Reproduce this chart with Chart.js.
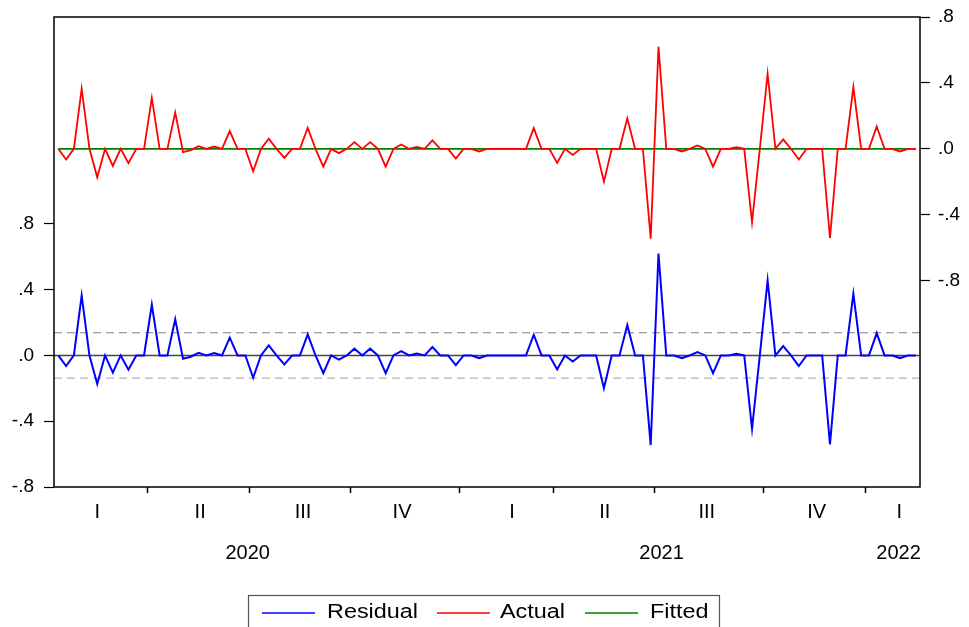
<!DOCTYPE html>
<html lang="en">
<head>
    <meta charset="UTF-8">
    <title>Residual / Actual / Fitted</title>
    <script src="https://cdn.jsdelivr.net/npm/chart.js"></script>
    <style>
        body { margin: 0; background: #fff; }
        #wrap { width: 969px; height: 627px; position: relative; }
    </style>
</head>
<body>
<div id="wrap"><canvas id="resChart"></canvas></div>

<script>
    // weekly observations, Jan 2020 - Feb 2022 (111 weeks)
    const residual = [
        0, -0.065, 0, 0.365, 0, -0.173, 0, -0.104, 0, -0.087,
        0, 0, 0.309, 0, 0, 0.221, -0.02, -0.008, 0.016, 0,
        0.014, 0, 0.108, 0, 0, -0.136, 0, 0.061, 0, -0.055,
        0, 0, 0.128, 0, -0.108, 0, -0.026, 0, 0.041, 0,
        0.041, 0, -0.108, 0, 0.026, 0, 0.012, 0, 0.051, 0,
        0, -0.059, 0, 0, -0.016, 0, 0, 0, 0, 0,
        0, 0.126, 0, 0, -0.085, 0, -0.037, 0, 0, 0,
        -0.199, 0, 0, 0.185, 0, 0, -0.545, 0.62, 0, 0,
        -0.016, 0, 0.02, 0, -0.108, 0, 0, 0.01, 0, -0.446,
        0, 0.456, 0, 0.057, 0, -0.065, 0, 0, 0, -0.541,
        0, 0, 0.375, 0, 0, 0.136, 0, 0, -0.016, 0,
        0
    ];
    const actual = [
        0, -0.065, 0, 0.365, 0, -0.173, 0, -0.104, 0, -0.087,
        0, 0, 0.309, 0, 0, 0.221, -0.02, -0.008, 0.016, 0,
        0.014, 0, 0.108, 0, 0, -0.136, 0, 0.061, 0, -0.055,
        0, 0, 0.128, 0, -0.108, 0, -0.026, 0, 0.041, 0,
        0.041, 0, -0.108, 0, 0.026, 0, 0.012, 0, 0.051, 0,
        0, -0.059, 0, 0, -0.016, 0, 0, 0, 0, 0,
        0, 0.126, 0, 0, -0.085, 0, -0.037, 0, 0, 0,
        -0.199, 0, 0, 0.185, 0, 0, -0.545, 0.62, 0, 0,
        -0.016, 0, 0.02, 0, -0.108, 0, 0, 0.01, 0, -0.446,
        0, 0.456, 0, 0.057, 0, -0.065, 0, 0, 0, -0.541,
        0, 0, 0.375, 0, 0, 0.136, 0, 0, -0.016, 0,
        0
    ];
    const fitted = [
        0, 0, 0, 0, 0, 0, 0, 0, 0, 0,
        0, 0, 0, 0, 0, 0, 0, 0, 0, 0,
        0, 0, 0, 0, 0, 0, 0, 0, 0, 0,
        0, 0, 0, 0, 0, 0, 0, 0, 0, 0,
        0, 0, 0, 0, 0, 0, 0, 0, 0, 0,
        0, 0, 0, 0, 0, 0, 0, 0, 0, 0,
        0, 0, 0, 0, 0, 0, 0, 0, 0, 0,
        0, 0, 0, 0, 0, 0, 0, 0, 0, 0,
        0, 0, 0, 0, 0, 0, 0, 0, 0, 0,
        0, 0, 0, 0, 0, 0, 0, 0, 0, 0,
        0, 0, 0, 0, 0, 0, 0, 0, 0, 0,
        0
    ];

    // x axis: quarter labels (centred), quarter boundaries (tick marks), years
    const quarterLabels = ['I', 'II', 'III', 'IV', 'I', 'II', 'III', 'IV', 'I'];
    const quarterPos = [5.0, 18.2, 31.4, 44.1, 58.2, 70.1, 83.2, 97.3, 107.9];
    const quarterBreaks = [11.5, 24.5, 37.5, 51.5, 63.5, 76.5, 90.5, 103.5];
    const yearLabels = ['2020', '2021', '2022'];
    const yearPos = [24.3, 77.4, 107.8];

    const yTicks = [-0.8, -0.4, 0, 0.4, 0.8];
    const residStd = 0.138;   // +/- 1 S.E. band on residual axis

    const FONT = "'Liberation Sans', Arial, sans-serif";

    function fmt(v) {
        return v.toFixed(1).replace('0.', '.');
    }

    function toPoints(arr) {
        return arr.map((v, i) => ({x: i, y: v}));
    }

    const refLines = {
        id: 'refLines',
        beforeDatasetsDraw(chart) {
            const ctx = chart.ctx;
            const a = chart.chartArea;
            const y = chart.scales.yL;
            ctx.save();
            ctx.lineWidth = 1.2;
            ctx.strokeStyle = '#808080';
            ctx.setLineDash([8, 5]);
            let p = y.getPixelForValue(residStd);
            ctx.beginPath(); ctx.moveTo(a.left, p); ctx.lineTo(a.right, p); ctx.stroke();
            ctx.strokeStyle = '#b4b4b4';
            p = y.getPixelForValue(-residStd);
            ctx.beginPath(); ctx.moveTo(a.left, p); ctx.lineTo(a.right, p); ctx.stroke();
            ctx.setLineDash([]);
            ctx.strokeStyle = '#444';
            ctx.lineWidth = 1.5;
            p = y.getPixelForValue(0);
            ctx.beginPath(); ctx.moveTo(a.left, p); ctx.lineTo(a.right, p); ctx.stroke();
            ctx.restore();
        },
        afterDatasetsDraw(chart) {
            const ctx = chart.ctx;
            const a = chart.chartArea;
            ctx.save();
            ctx.strokeStyle = '#000';
            ctx.lineWidth = 1.5;
            ctx.strokeRect(a.left, a.top, a.right - a.left, a.bottom - a.top);
            ctx.restore();
        }
    };

    // boxed legend below the date axis
    const boxLegend = {
        id: 'boxLegend',
        afterDraw(chart) {
            const ctx = chart.ctx;
            const lineX = [262, 437, 585];
            const textX = [327, 500, 650];
            const y = 613;
            ctx.save();
            ctx.strokeStyle = '#555';
            ctx.lineWidth = 1.2;
            ctx.strokeRect(248.5, 595.5, 471, 40);
            ctx.font = '20px ' + FONT;
            ctx.textBaseline = 'middle';
            ctx.fillStyle = '#000';
            chart.data.datasets.forEach((ds, i) => {
                ctx.strokeStyle = ds.borderColor;
                ctx.lineWidth = 1.5;
                ctx.beginPath();
                ctx.moveTo(lineX[i], y);
                ctx.lineTo(lineX[i] + 53, y);
                ctx.stroke();
                ctx.save();
                ctx.translate(textX[i], y - 1);
                ctx.scale(1.17, 1);
                ctx.fillText(ds.label, 0, 0);
                ctx.restore();
            });
            ctx.restore();
        }
    };

    const ctx = document.getElementById('resChart').getContext('2d');
    new Chart(ctx, {
        type: 'line',
        data: {
            datasets: [{
                label: 'Residual',
                data: toPoints(residual),
                borderColor: '#0000ff',
                borderWidth: 2,
                yAxisID: 'yL'
            }, {
                label: 'Actual',
                data: toPoints(actual),
                borderColor: '#ff0000',
                borderWidth: 1.8,
                yAxisID: 'yR'
            }, {
                label: 'Fitted',
                data: toPoints(fitted),
                borderColor: '#008000',
                borderWidth: 1.8,
                yAxisID: 'yR'
            }]
        },
        options: {
            responsive: true,
            maintainAspectRatio: false,
            animation: false,
            elements: { point: { radius: 0 }, line: { tension: 0 } },
            layout: { padding: { top: 17, bottom: 54, left: 0, right: 0 } },
            plugins: { legend: { display: false }, tooltip: { enabled: false } },
            scales: {
                x: {
                    type: 'linear',
                    position: 'bottom',
                    min: -0.55,
                    max: 110.55,
                    afterBuildTicks(s) {
                        s.ticks = quarterBreaks.concat(quarterPos).map(v => ({value: v}));
                    },
                    afterFit(s) { s.height = 46; },
                    border: { display: false },
                    grid: {
                        drawOnChartArea: false,
                        drawTicks: true,
                        tickLength: 6,
                        tickWidth: 1.5,
                        tickColor: c => (c.tick && quarterBreaks.includes(c.tick.value)) ? '#000' : 'rgba(0,0,0,0)'
                    },
                    ticks: {
                        autoSkip: false,
                        maxRotation: 0,
                        padding: 7,
                        color: '#000',
                        font: { family: FONT, size: 20 },
                        callback: v => {
                            const k = quarterPos.indexOf(v);
                            return k >= 0 ? quarterLabels[k] : '';
                        }
                    }
                },
                x2: {
                    type: 'linear',
                    position: 'bottom',
                    min: -0.55,
                    max: 110.55,
                    afterBuildTicks(s) {
                        s.ticks = yearPos.map(v => ({value: v}));
                    },
                    afterFit(s) { s.height = 40; },
                    border: { display: false },
                    grid: { display: false, drawTicks: false },
                    ticks: {
                        autoSkip: false,
                        maxRotation: 0,
                        padding: 8,
                        color: '#000',
                        font: { family: FONT, size: 20 },
                        callback: v => yearLabels[yearPos.indexOf(v)]
                    }
                },
                yL: {
                    type: 'linear',
                    position: 'left',
                    min: -0.8,
                    max: 2.058,
                    afterBuildTicks(s) {
                        s.ticks = yTicks.map(v => ({value: v}));
                    },
                    afterFit(s) { s.width = 54; },
                    border: { display: false },
                    grid: { drawOnChartArea: false, tickLength: 10, tickColor: '#000', tickWidth: 1.2 },
                    ticks: {
                        padding: 10,
                        color: '#000',
                        font: { family: FONT, size: 19, lineHeight: 0.6 },
                        callback: v => fmt(v)
                    }
                },
                yR: {
                    type: 'linear',
                    position: 'right',
                    min: -2.052,
                    max: 0.8,
                    afterBuildTicks(s) {
                        s.ticks = yTicks.map(v => ({value: v}));
                    },
                    afterFit(s) { s.width = 49; },
                    border: { display: false },
                    grid: { drawOnChartArea: false, tickLength: 10, tickColor: '#000', tickWidth: 1.2 },
                    ticks: {
                        padding: 8,
                        color: '#000',
                        font: { family: FONT, size: 19, lineHeight: 0.6 },
                        callback: v => fmt(v)
                    }
                }
            }
        },
        plugins: [refLines, boxLegend]
    });
</script>
</body>
</html>
